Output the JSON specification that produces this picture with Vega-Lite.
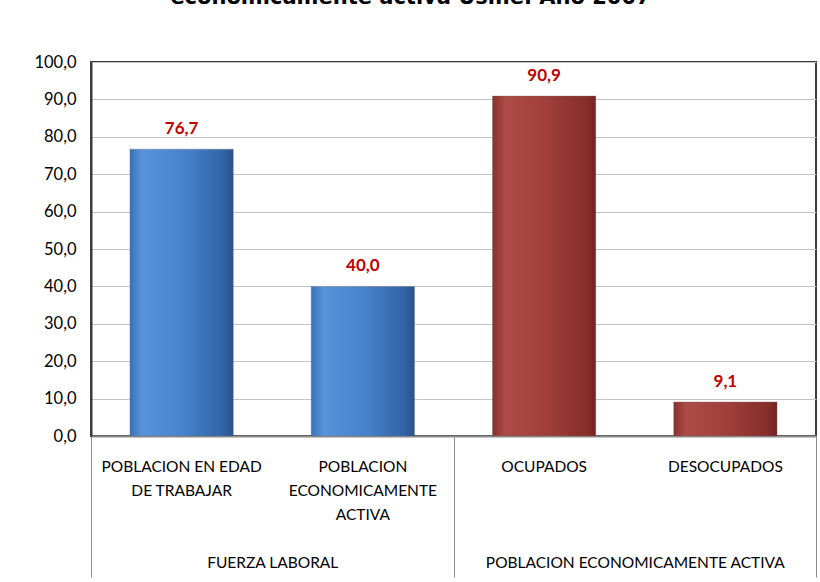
{
  "$schema": "https://vega.github.io/schema/vega-lite/v6.json",
  "autosize": {"type": "none"},
  "width": 725,
  "height": 374,
  "padding": {"left": 91, "top": 62, "right": 4, "bottom": 146},
  "background": "white",
  "title": {
    "text": "economicamente activa Usme. Año 2007",
    "orient": "top",
    "frame": "group",
    "anchor": "middle",
    "baseline": "alphabetic",
    "offset": 29,
    "dx": -43,
    "font": "DejaVu Sans",
    "fontSize": 21,
    "fontWeight": "bold",
    "color": "#000000",
    "limit": 0
  },
  "data": {
    "values": [
      {"categoria": "POBLACION EN EDAD DE TRABAJAR", "grupo": "FUERZA LABORAL", "valor": 76.7},
      {"categoria": "POBLACION ECONOMICAMENTE ACTIVA", "grupo": "FUERZA LABORAL", "valor": 40.0},
      {"categoria": "OCUPADOS", "grupo": "POBLACION ECONOMICAMENTE ACTIVA", "valor": 90.9},
      {"categoria": "DESOCUPADOS", "grupo": "POBLACION ECONOMICAMENTE ACTIVA", "valor": 9.1}
    ]
  },
  "layer": [
    {
      "encoding": {
        "x": {
          "field": "categoria",
          "type": "nominal",
          "sort": null,
          "scale": {"paddingInner": 0.43, "paddingOuter": 0.215},
          "axis": {
            "orient": "bottom",
            "title": null,
            "ticks": false,
            "grid": false,
            "labelAngle": 0,
            "labelBaseline": "top",
            "labelPadding": 23,
            "labelLineHeight": 24,
            "labelFont": "Lato",
            "labelFontSize": 15.5,
            "labelColor": "#000000",
            "labelLimit": 0,
            "domainColor": "#8c8c8c",
            "domainWidth": 2,
            "labelExpr": "datum.value == 'POBLACION EN EDAD DE TRABAJAR' ? ['POBLACION EN EDAD', 'DE TRABAJAR'] : datum.value == 'POBLACION ECONOMICAMENTE ACTIVA' ? ['POBLACION', 'ECONOMICAMENTE', 'ACTIVA'] : datum.value"
          }
        },
        "y": {
          "field": "valor",
          "type": "quantitative",
          "scale": {"domain": [0, 100], "nice": false},
          "axis": {
            "title": null,
            "values": [0, 10, 20, 30, 40, 50, 60, 70, 80, 90, 100],
            "labelOverlap": false,
            "format": ".1f",
            "ticks": false,
            "labelPadding": 15,
            "labelFont": "Lato",
            "labelFontSize": 16.5,
            "labelColor": "#000000",
            "domainColor": "#3c3c3c",
            "domainWidth": 2,
            "gridColor": "#c4c4c4",
            "gridWidth": 1
          }
        }
      },
      "layer": [
        {
          "mark": {"type": "bar", "stroke": "#6b6b6b", "strokeOpacity": 0.35, "strokeWidth": 1},
          "encoding": {
            "fill": {
              "condition": {
                "test": "datum.grupo === 'FUERZA LABORAL'",
                "value": {
                  "gradient": "linear", "x1": 0, "x2": 1, "y1": 0, "y2": 0,
                  "stops": [
                    {"offset": 0, "color": "#3b70b8"},
                    {"offset": 0.12, "color": "#5894da"},
                    {"offset": 0.55, "color": "#4580c9"},
                    {"offset": 0.9, "color": "#3163a6"},
                    {"offset": 1, "color": "#28528b"}
                  ]
                }
              },
              "value": {
                "gradient": "linear", "x1": 0, "x2": 1, "y1": 0, "y2": 0,
                "stops": [
                  {"offset": 0, "color": "#8a2f2c"},
                  {"offset": 0.12, "color": "#ad4b47"},
                  {"offset": 0.55, "color": "#9e3d39"},
                  {"offset": 0.9, "color": "#872e2b"},
                  {"offset": 1, "color": "#742422"}
                ]
              }
            }
          }
        },
        {
          "mark": {
            "type": "text",
            "baseline": "bottom",
            "dy": -11,
            "font": "Lato",
            "fontSize": 17,
            "fontWeight": "bold",
            "color": "#c00000"
          },
          "encoding": {
            "text": {"field": "valor", "type": "quantitative", "format": ".1f"}
          }
        }
      ]
    },
    {
      "mark": {"type": "point", "opacity": 0},
      "encoding": {
        "x": {
          "field": "grupo",
          "type": "nominal",
          "sort": null,
          "scale": {"paddingInner": 0, "paddingOuter": 0},
          "axis": {
            "orient": "bottom",
            "title": null,
            "domain": false,
            "grid": false,
            "ticks": true,
            "tickBand": "extent",
            "tickSize": 141,
            "tickColor": "#8c8c8c",
            "tickWidth": 1,
            "labelAngle": 0,
            "labelBaseline": "top",
            "labelPadding": -22,
            "labelLimit": 0,
            "labelFont": "Lato",
            "labelFontSize": 15.5,
            "labelColor": "#000000"
          }
        }
      }
    }
  ],
  "resolve": {"scale": {"x": "independent"}, "axis": {"x": "independent"}},
  "config": {
    "locale": {
      "number": {"decimal": ",", "thousands": ".", "grouping": [3], "currency": ["$", ""]}
    },
    "view": {"stroke": "#3c3c3c", "strokeWidth": 2}
  }
}
